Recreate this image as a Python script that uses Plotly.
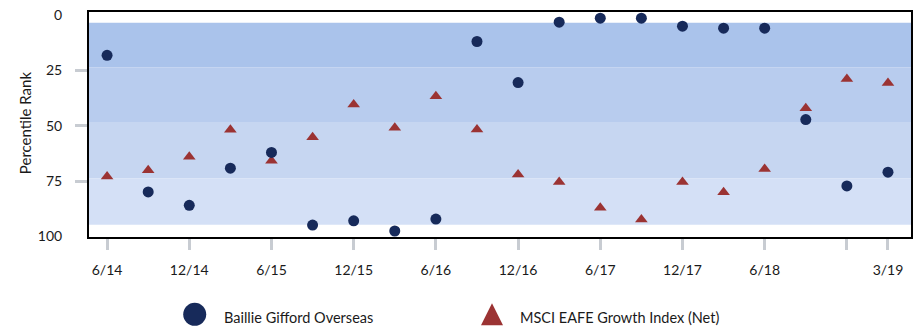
import plotly.graph_objects as go

# ---- data ----
quarters = ['6/14', '9/14', '12/14', '3/15', '6/15', '9/15', '12/15', '3/16', '6/16', '9/16',
            '12/16', '3/17', '6/17', '9/17', '12/17', '3/18', '6/18', '9/18', '12/18', '3/19']
baillie = [18.3, 79.9, 85.9, 69.2, 62.1, 94.8, 92.9, 97.5, 92.1, 12.1,
           30.6, 3.4, 1.6, 1.6, 5.2, 6.1, 6.1, 47.3, 77.2, 71.0]
msci = [72.9, 70.1, 64.0, 51.9, 65.8, 55.3, 40.5, 51.0, 36.8, 51.8,
        72.0, 75.4, 87.0, 92.3, 75.4, 80.0, 69.5, 42.2, 29.0, 30.8]
tick_vals = ['6/14', '12/14', '6/15', '12/15', '6/16', '12/16', '6/17', '12/17', '6/18', '12/18', '3/19']
tick_text = ['6/14', '12/14', '6/15', '12/15', '6/16', '12/16', '6/17', '12/17', '6/18', '', '3/19']
y_tick_vals = [0, 25, 50, 75, 100]
band_edges = [3.6, 23.7, 48.4, 73.8, 94.7]
band_colors = ['#AAC3EB', '#B8CCEE', '#C6D6F1', '#D4E0F6']
series_names = ['Baillie Gifford Overseas', 'MSCI EAFE Growth Index (Net)']

FONT = 'Lato, Calibri, sans-serif'
NAVY = '#172A5A'
RED = '#9B3333'
TICKGRAY = '#C8CCD2'
TXT = '#1a1a1a'

fig = go.Figure()

fig.add_trace(go.Scatter(x=quarters, y=msci, mode='markers', name=series_names[1],
                         marker=dict(symbol='triangle-up', size=11, color=RED),
                         showlegend=False))
fig.add_trace(go.Scatter(x=quarters, y=baillie, mode='markers', name=series_names[0],
                         marker=dict(symbol='circle', size=11, color=NAVY),
                         showlegend=False))

shapes = []
for i, c in enumerate(band_colors):
    shapes.append(dict(type='rect', xref='paper', yref='y', x0=0, x1=1,
                       y0=band_edges[i], y1=band_edges[i + 1],
                       fillcolor=c, line=dict(width=0), layer='below'))

# custom legend markers (pixel-sized, anchored in paper space)
shapes.append(dict(type='circle', xref='paper', yref='paper',
                   xsizemode='pixel', ysizemode='pixel',
                   xanchor=0.1286, yanchor=-0.3436,
                   x0=-11.5, x1=11.5, y0=-11.5, y1=11.5,
                   fillcolor=NAVY, line=dict(width=0)))
shapes.append(dict(type='path', xref='paper', yref='paper',
                   xsizemode='pixel', ysizemode='pixel',
                   xanchor=0.4903, yanchor=-0.3436,
                   path='M-11,-11 L11,-11 L0,11 Z',
                   fillcolor=RED, line=dict(width=0)))

annotations = [
    dict(text='Percentile Rank', xref='paper', yref='paper', x=-0.0777, y=0.5066,
         textangle=-90, showarrow=False, xanchor='center', yanchor='middle',
         font=dict(family=FONT, size=15, color=TXT)),
    dict(text=series_names[0], xref='paper', yref='paper', x=0.1614, y=-0.3568,
         showarrow=False, xanchor='left', yanchor='middle',
         font=dict(family=FONT, size=14.5, color=TXT)),
    dict(text=series_names[1], xref='paper', yref='paper', x=0.5218, y=-0.3568,
         showarrow=False, xanchor='left', yanchor='middle',
         font=dict(family=FONT, size=14.5, color=TXT)),
]

fig.update_layout(
    width=919, height=331,
    margin=dict(l=89, r=6, t=10, b=94),
    paper_bgcolor='white', plot_bgcolor='white',
    shapes=shapes, annotations=annotations,
    font=dict(family=FONT, size=14, color=TXT),
    showlegend=False,
)

fig.update_xaxes(
    type='category', categoryorder='array', categoryarray=quarters,
    range=[-0.44, 19.56],
    tickmode='array', tickvals=tick_vals, ticktext=tick_text,
    ticks='outside', ticklen=11, tickwidth=3, tickcolor=TICKGRAY,
    ticklabelstandoff=8,
    showline=True, linecolor='black', linewidth=2, mirror=True,
    showgrid=False, zeroline=False,
    tickfont=dict(family=FONT, size=14, color=TXT),
)

fig.update_yaxes(
    range=[100.2, -1.2],
    tickmode='array', tickvals=y_tick_vals, ticktext=[str(v) for v in y_tick_vals],
    ticks='', ticklabelstandoff=22,
    minor=dict(tickmode='array', tickvals=y_tick_vals[1:-1], ticks='outside',
               ticklen=12, tickwidth=3, tickcolor=TICKGRAY, showgrid=False),
    showline=True, linecolor='black', linewidth=2, mirror=True,
    showgrid=False, zeroline=False,
    tickfont=dict(family=FONT, size=14, color=TXT),
)

fig.write_html('out.html', config={'displayModeBar': False},
               post_script="document.body.style.margin='0';document.body.style.overflow='hidden';")
